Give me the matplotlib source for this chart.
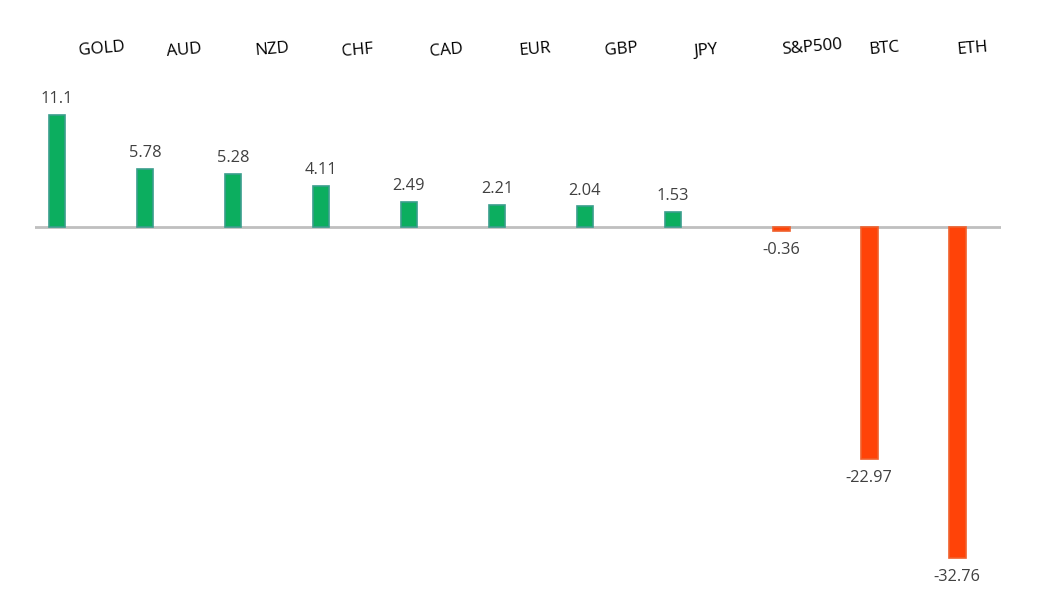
import matplotlib
matplotlib.use("Agg")
import matplotlib.pyplot as plt

# data
assets = ['GOLD', 'AUD', 'NZD', 'CHF', 'CAD', 'EUR', 'GBP', 'JPY', 'S&P500', 'BTC', 'ETH']
changes = [11.1, 5.78, 5.28, 4.11, 2.49, 2.21, 2.04, 1.53, -0.36, -22.97, -32.76]

# layout (slot positions of bars and the tilted header labels)
bar_pos = [0, 1, 2, 3, 4, 5, 6, 7, 8.23, 9.23, 10.23]
label_pos = [0.51, 1.45, 2.45, 3.42, 4.43, 5.43, 6.41, 7.37, 8.58, 9.40, 10.40]
label_y = [49, 50, 50, 51, 50.5, 50, 50, 51, 47, 49, 49]  # pixels from top

W, H = 1043, 605
fig = plt.figure(figsize=(W / 100, H / 100), dpi=100)
ax = fig.add_axes([35 / W, 0, (1000.7 - 35) / W, 1])
ax.set_xlim(-0.25, 10.724)
ax.set_ylim(-37.45, 22.5)
ax.axis('off')

green, green_edge = '#0CAE5F', '#3A9E8C'
red, red_edge = '#FF4308', '#F0602C'
colors = [green if v >= 0 else red for v in changes]
edges = [green_edge if v >= 0 else red_edge for v in changes]

ax.axhline(0, color='#BFBFBF', lw=2, zorder=1)
ax.bar(bar_pos, changes, width=0.19, color=colors, edgecolor=edges, linewidth=1.2, zorder=2)

for x, v in zip(bar_pos, changes):
    off = 11.3 if v >= 0 else -14.0
    ax.annotate(f'{v:g}', (x, v), xytext=(0, off), textcoords='offset points',
                ha='center', va='center', fontsize=11.8, color='#404040',
                family='Open Sans')

# header labels, slightly tilted
for name, x, yp in zip(assets, label_pos, label_y):
    y = ax.transData.inverted().transform(
        ax.transData.transform((x, 0)) * [1, 0] + [0, H - yp])[1]
    ax.text(x, y, name, ha='center', va='center', rotation=5,
            rotation_mode='anchor', fontsize=12.2, color='black',
            family='Open Sans')

fig.savefig('out.png', dpi=100, facecolor='white')
